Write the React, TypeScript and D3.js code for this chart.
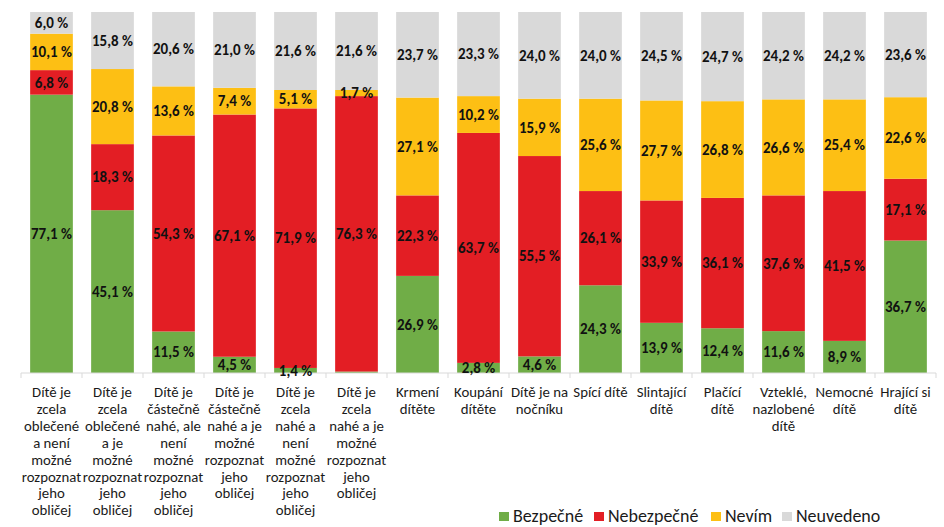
import * as d3 from 'd3'

const categories = [
  ['Dítě je', 'zcela', 'oblečené', 'a není', 'možné', 'rozpoznat', 'jeho', 'obličej'],
  ['Dítě je', 'zcela', 'oblečené', 'a je', 'možné', 'rozpoznat', 'jeho', 'obličej'],
  ['Dítě je', 'částečně', 'nahé, ale', 'není', 'možné', 'rozpoznat', 'jeho', 'obličej'],
  ['Dítě je', 'částečně', 'nahé a je', 'možné', 'rozpoznat', 'jeho', 'obličej'],
  ['Dítě je', 'zcela', 'nahé a', 'není', 'možné', 'rozpoznat', 'jeho', 'obličej'],
  ['Dítě je', 'zcela', 'nahé a je', 'možné', 'rozpoznat', 'jeho', 'obličej'],
  ['Krmení', 'dítěte'],
  ['Koupání', 'dítěte'],
  ['Dítě je na', 'nočníku'],
  ['Spící dítě'],
  ['Slintající', 'dítě'],
  ['Plačící', 'dítě'],
  ['Vzteklé,', 'nazlobené', 'dítě'],
  ['Nemocné', 'dítě'],
  ['Hrající si', 'dítě'],
]

const seriesNames = ['Bezpečné', 'Nebezpečné', 'Nevím', 'Neuvedeno']
const colors = ['#70ad47', '#e31e24', '#fdbf14', '#d9d9d9']

const bezpecne = [77.1, 45.1, 11.5, 4.5, 1.4, 0.4, 26.9, 2.8, 4.6, 24.3, 13.9, 12.4, 11.6, 8.9, 36.7]
const nebezpecne = [6.8, 18.3, 54.3, 67.1, 71.9, 76.3, 22.3, 63.7, 55.5, 26.1, 33.9, 36.1, 37.6, 41.5, 17.1]
const nevim = [10.1, 20.8, 13.6, 7.4, 5.1, 1.7, 27.1, 10.2, 15.9, 25.6, 27.7, 26.8, 26.6, 25.4, 22.6]
const neuvedeno = [6.0, 15.8, 20.6, 21.0, 21.6, 21.6, 23.7, 23.3, 24.0, 24.0, 24.5, 24.7, 24.2, 24.2, 23.6]

const width = 944
const height = 527
const margin = { top: 12, right: 8, bottom: 154, left: 21 }
const font = "Carlito, 'Liberation Sans Narrow', 'Open Sans', sans-serif"
// legend item x positions (square left edges)
const legendX = [499, 594, 711, 782]

export default function App() {
  const rows = categories.map((c, i) => ({
    i,
    Bezpečné: bezpecne[i],
    Nebezpečné: nebezpecne[i],
    Nevím: nevim[i],
    Neuvedeno: neuvedeno[i],
  }))
  const stacked = d3.stack<any>().keys(seriesNames)(rows)

  const x = d3.scaleBand<number>()
    .domain(categories.map((_, i) => i))
    .range([margin.left, width - margin.right])
    .paddingInner(0.3)
    .paddingOuter(0.15)
  const y = d3.scaleLinear().domain([0, 100]).range([height - margin.bottom, margin.top])
  const step = x.step()
  const y0 = y(0)

  return (
    <svg width={width} height={height} style={{ position: 'absolute', left: 0, top: 0, background: '#fff' }}>
      {stacked.map((s, si) => (
        <g key={s.key}>
          {s.map((d, i) => (
            <rect key={i} x={x(i)} width={x.bandwidth()} y={y(d[1])} height={y(d[0]) - y(d[1])} fill={colors[si]} />
          ))}
        </g>
      ))}
      <line x1={margin.left} x2={width - margin.right} y1={y0} y2={y0} stroke="#d9d9d9" />
      {d3.range(categories.length + 1).map(i => {
        const tx = margin.left + i * step
        return <line key={i} x1={tx} x2={tx} y1={y0} y2={y0 + 5} stroke="#d9d9d9" />
      })}
      {stacked.map(s => (
        <g key={s.key}>
          {s.map((d, i) => {
            const v = d[1] - d[0]
            if (v < 1) return null
            return (
              <text key={i} x={x(i)! + x.bandwidth() / 2} y={(y(d[0]) + y(d[1])) / 2} dy="0.35em"
                textAnchor="middle" fontFamily={font} fontWeight="bold" fontSize={15} fill="#111">
                {d3.format('.1f')(v).replace('.', ',')} %
              </text>
            )
          })}
        </g>
      ))}
      {categories.map((lines, i) => (
        <text key={i} x={x(i)! + x.bandwidth() / 2} y={y0 + 24} textAnchor="middle" fontFamily={font} fontSize={14.8} fill="#1a1a1a">
          {lines.map((l, j) => (
            <tspan key={j} x={x(i)! + x.bandwidth() / 2} dy={j === 0 ? 0 : 16.9}>{l}</tspan>
          ))}
        </text>
      ))}
      <g fontFamily={font} fontSize={18} fill="#1a1a1a">
        {seriesNames.map((n, i) => (
          <g key={n} transform={`translate(${legendX[i]},522)`}>
            <rect x={0} y={-10} width={10} height={9} fill={colors[i]} />
            <text x={14} y={0}>{n}</text>
          </g>
        ))}
      </g>
    </svg>
  )
}
